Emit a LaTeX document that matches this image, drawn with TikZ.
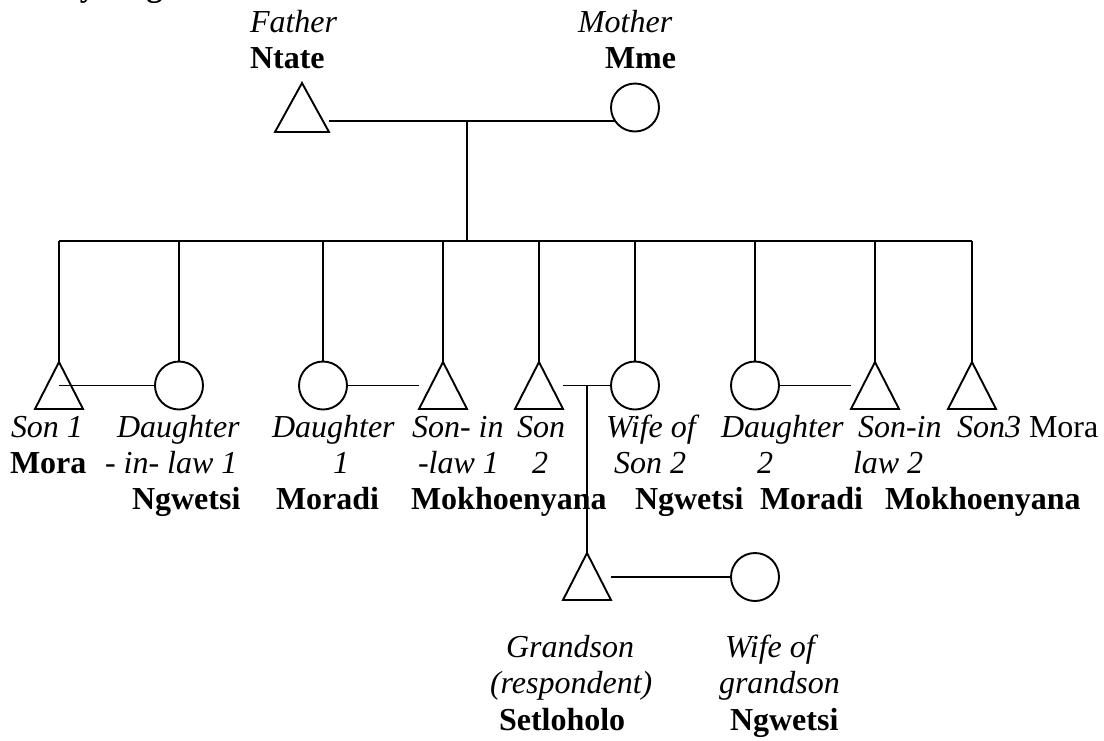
\documentclass[tikz,border=0pt]{standalone}
\usepackage{fontspec}
\setmainfont{Liberation Serif}
\usetikzlibrary{shapes.geometric,calc}
\begin{document}
\begin{tikzpicture}[x=1pt,y=-1pt, line width=1.9pt,
  male/.style={draw, isosceles triangle, shape border rotate=90, isosceles triangle stretches, minimum width=48pt, minimum height=47pt, inner sep=0pt, outer sep=0pt},
  female/.style={draw, circle, minimum size=48pt, inner sep=0pt, outer sep=0pt},
  lbl/.style={anchor=base west, inner sep=0pt, outer sep=0pt, font=\fontsize{32}{36}\selectfont},
  it/.style={lbl, font=\fontsize{32}{36}\selectfont\itshape},
  bf/.style={lbl, font=\fontsize{32}{36}\selectfont\bfseries}]
\useasboundingbox (0,0) rectangle (1104,740);
\begin{scope}
\clip (0,0) rectangle (1104,740);
\node[bf] (title) at (0,-3.6) {Family diagram};
\end{scope}

% parents
\node[male, minimum width=54pt, minimum height=49pt, anchor=apex] (father) at (302,83) {};
\node[female] (mother) at (635,107.5) {};
\coordinate (fm) at (467,0 |- mother.214);
\coordinate (sib) at (467,241);
\draw (father.right corner |- mother.214) -- (mother.214);
\draw (fm) -- (sib);

% children
\node[male, anchor=apex] (son1) at (59,362) {};
\node[female] (dil1) at (179,385.5) {};
\node[female] (d1) at (323,385.5) {};
\node[male, anchor=apex] (sil1) at (443,362) {};
\node[male, anchor=apex] (son2) at (539,362) {};
\node[female] (wife2) at (635,385.5) {};
\node[female] (d2) at (755,385.5) {};
\node[male, anchor=apex] (sil2) at (875,362) {};
\node[male, anchor=apex] (son3) at (972,362) {};

\draw (son1.apex |- sib) -- (son3.apex |- sib);
\foreach \n in {son1,sil1,son2,sil2,son3} \draw (\n.apex |- sib) -- (\n.apex);
\foreach \n in {dil1,d1,wife2,d2} \draw (\n.north |- sib) -- (\n.north);

\draw (son1.apex |- dil1.west) -- (dil1.west);
\draw (d1.east) -- (d1.east -| sil1.left corner);
\draw (son2.right corner |- wife2.west) -- (wife2.west);
\draw (d2.east) -- (d2.east -| sil2.left corner);

% grandson
\node[male, anchor=apex] (gs) at (587,553) {};
\node[female] (gw) at (755,577) {};
\draw (gs.apex |- wife2.west) -- (gs.apex);
\draw (gs.right corner |- gw.west) -- (gw.west);

% labels top
\node[it] (tFa) at (250,32) {Father};
\node[bf] (tNt) at (250,68) {Ntate};
\node[it] (tMo) at (578,32) {Mother};
\node[bf] (tMm) at (605,68) {Mme};

% labels row
\node[it] (l1a) at (11,437) {Son 1};
\node[bf] (l1b) at (10,473) {Mora};

\node[it] (l2a) at (117,437) {Daughter};
\node[it] (l2b) at (105,473) {- in- law 1};
\node[bf] (l2c) at (132,509.5) {Ngwetsi};

\node[it] (l3a) at (272,437) {Daughter};
\node[it] (l3b) at (333,473) {1};
\node[bf] (l3c) at (276,509.5) {Moradi};

\node[it] (l4a) at (412,437) {Son- in};
\node[it] (l4b) at (418,473) {-law 1};
\node[bf] (l4c) at (411,509.5) {Mokhoenyana};

\node[it] (l5a) at (517,437) {Son};
\node[it] (l5b) at (532,473) {2};

\node[it] (l6a) at (606,437) {Wife of};
\node[it] (l6b) at (614,473) {Son 2};
\node[bf] (l6c) at (635,509.5) {Ngwetsi};

\node[it] (l7a) at (721,437) {Daughter};
\node[it] (l7b) at (757,473) {2};
\node[bf] (l7c) at (760,509.5) {Moradi};

\node[it] (l8a) at (858,437) {Son-in};
\node[it] (l8b) at (853,473) {law 2};
\node[bf] (l8c) at (885,509.5) {Mokhoenyana};

\node[lbl] (l9a) at (957,437) {\textit{Son3} Mora};

% labels bottom
\node[it] (g1a) at (506,657) {Grandson};
\node[it] (g1b) at (490,693) {(respondent)};
\node[bf] (g1c) at (499,730) {Setloholo};
\node[it] (g2a) at (725,657) {Wife of};
\node[it] (g2b) at (719,693) {grandson};
\node[bf] (g2c) at (730,730) {Ngwetsi};
\end{tikzpicture}
\end{document}
